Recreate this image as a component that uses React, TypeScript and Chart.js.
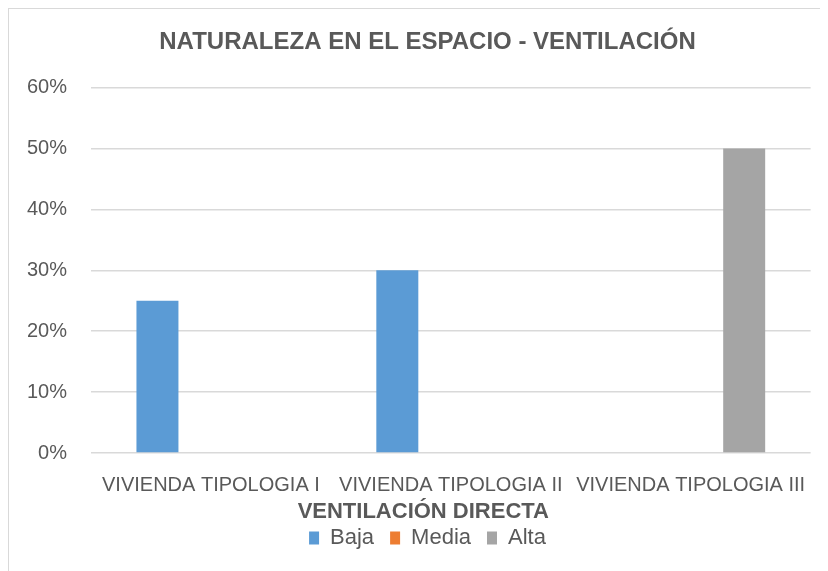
import React, { useEffect, useRef } from "react";
import { Chart, registerables } from "chart.js";

Chart.register(...registerables);

const categories = ["VIVIENDA TIPOLOGIA I", "VIVIENDA TIPOLOGIA II", "VIVIENDA TIPOLOGIA III"];
const seriesNames = ["Baja", "Media", "Alta"];
const baja = [25, 30, 0];
const media = [0, 0, 0];
const alta = [0, 0, 50];
const seriesColors = ["#5B9BD5", "#ED7D31", "#A5A5A5"];
const yMax = 60;
const yStep = 10;
const titleText = "NATURALEZA EN EL ESPACIO - VENTILACIÓN";
const xTitleText = "VENTILACIÓN DIRECTA";

const FONT = "'Liberation Sans', Arial, sans-serif";
const TEXT = "#595959";

export default function App() {
  const ref = useRef<HTMLCanvasElement | null>(null);

  useEffect(() => {
    if (!ref.current) return;
    const values = [baja, media, alta];
    const chart = new Chart(ref.current, {
      type: "bar",
      data: {
        labels: categories,
        datasets: seriesNames.map((name, i) => ({
          label: name,
          data: values[i],
          backgroundColor: seriesColors[i],
          borderWidth: 0,
          categoryPercentage: 0.669,
          barPercentage: 0.785,
        })),
      },
      options: {
        responsive: false,
        animation: false,
        devicePixelRatio: 1,
        layout: { padding: { left: 18, right: 0, top: 0, bottom: 12 } },
        plugins: {
          tooltip: { enabled: false },
          title: {
            display: true,
            text: titleText,
            color: TEXT,
            font: { family: FONT, size: 24, weight: "bold" },
            padding: { top: 18.6, bottom: 31.1 },
          },
          legend: {
            display: true,
            position: "bottom",
            labels: {
              color: TEXT,
              font: { family: FONT, size: 22 },
              boxWidth: 10,
              boxHeight: 13,
              padding: 16,
            },
          },
        },
        scales: {
          x: {
            grid: { display: false, drawTicks: false },
            border: { display: false },
            ticks: {
              color: TEXT,
              font: { family: FONT, size: 20 },
              padding: 20,
              maxRotation: 0,
              autoSkip: false,
            },
            title: {
              display: true,
              text: xTitleText + "\u00A0".repeat(9),
              color: TEXT,
              font: { family: FONT, size: 22, weight: "bold" },
              padding: { top: -18.2, bottom: -14.2 },
            },
          },
          y: {
            min: 0,
            max: yMax,
            afterFit: (s: any) => {
              s.width = 64;
            },
            grid: { color: "#d9d9d9", lineWidth: 1.5, drawTicks: false },
            border: { display: false },
            ticks: {
              stepSize: yStep,
              color: TEXT,
              font: { family: FONT, size: 20 },
              padding: 24,
              callback: (v: any) => v + "%",
            },
          },
          y2: {
            position: "right",
            min: 0,
            max: yMax,
            afterFit: (s: any) => {
              s.width = 17;
            },
            grid: { display: false, drawTicks: false },
            border: { display: false },
            ticks: { display: false },
          },
        },
      },
    });
    return () => chart.destroy();
  }, []);

  return (
    <div
      style={{
        width: 820,
        height: 563,
        boxSizing: "border-box",
        borderLeft: "1px solid #d9d9d9",
        borderTop: "1px solid #d9d9d9",
        position: "relative",
        overflow: "hidden",
        background: "#fff",
      }}
    >
      <canvas ref={ref} width={819} height={562} style={{ display: "block" }} />
    </div>
  );
}
